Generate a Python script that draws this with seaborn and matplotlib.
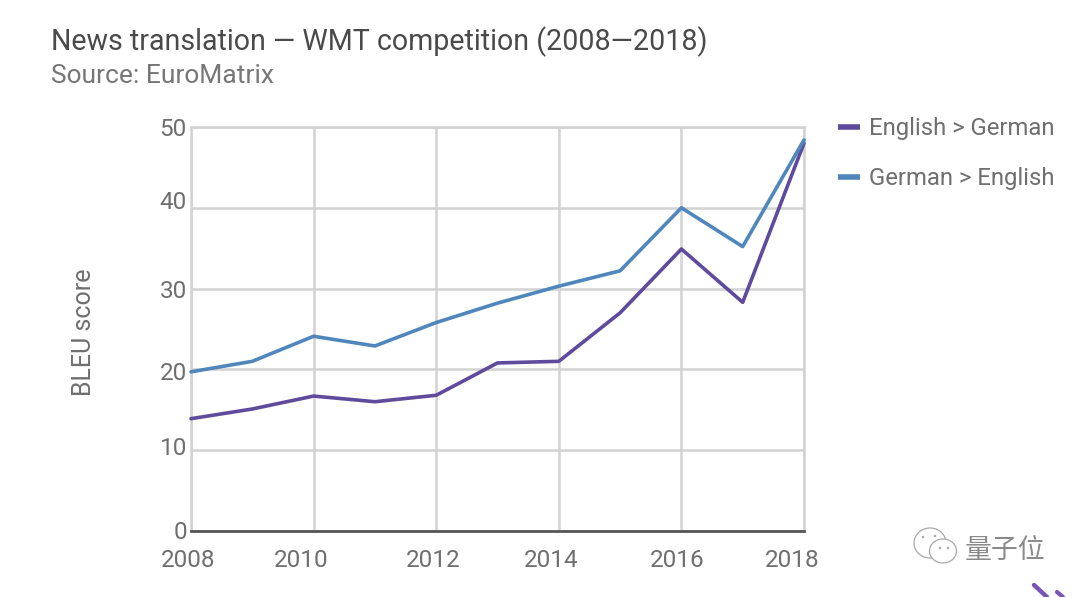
import matplotlib
matplotlib.use("Agg")
import matplotlib.pyplot as plt
import matplotlib.patches as mp
from matplotlib.lines import Line2D
from matplotlib.transforms import ScaledTranslation
import pandas as pd
import seaborn as sns

years = [2008, 2009, 2010, 2011, 2012, 2013, 2014, 2015, 2016, 2017, 2018]
en_de = [13.9, 15.1, 16.7, 16.0, 16.8, 20.8, 21.0, 27.0, 34.9, 28.3, 48.0]
de_en = [19.7, 21.0, 24.1, 22.9, 25.8, 28.2, 30.3, 32.2, 40.0, 35.2, 48.4]
series_names = ["English > German", "German > English"]
palette = ["#5f4b9b", "#4f87bd"]
y_ticks = [0, 10, 20, 30, 40, 50]
x_ticks = [2008, 2010, 2012, 2014, 2016, 2018]
# small hand offsets of the tick labels seen in the reference (pixels)
x_label_shift = [-3, -12, -3, -8, -4, -12]
y_label_shift = [1, 4, -2, 0, 8, 0]

sns.set_theme(style="white")
plt.rcParams["font.family"] = ["Roboto", "Noto Sans CJK SC", "DejaVu Sans"]

W, H = 1080, 597
fig = plt.figure(figsize=(W / 100, H / 100), dpi=100, facecolor="white")
ax = fig.add_axes([191 / W, 1 - 531 / H, (804 - 191) / W, (531 - 127) / H])

df = pd.DataFrame({"year": years * 2,
                   "score": en_de + de_en,
                   "series": [series_names[0]] * 11 + [series_names[1]] * 11})
sns.lineplot(data=df, x="year", y="score", hue="series", palette=palette,
             linewidth=2.6, ax=ax, legend=False, zorder=3, clip_on=False)

ax.set_xlim(2008, 2018)
ax.set_ylim(0, 50)
ax.set_xticks(x_ticks)
ax.set_yticks(y_ticks)
ax.grid(True, color="#d2d2d2", linewidth=1.8)
ax.set_axisbelow(True)
for s in ["top", "right", "left"]:
    ax.spines[s].set_color("#d2d2d2")
    ax.spines[s].set_linewidth(1.8)
ax.spines["bottom"].set_color("#555555")
ax.spines["bottom"].set_linewidth(2.0)
ax.spines["bottom"].set_zorder(2.5)
ax.set_xlabel("")
ax.set_ylabel("")
ax.tick_params(axis="both", length=0, labelsize=17.5, labelcolor="#6f6f6f")
ax.tick_params(axis="x", pad=13)
ax.tick_params(axis="y", pad=3)
fig.canvas.draw()
for lab, dx in zip(ax.get_xticklabels(), x_label_shift):
    lab.set_transform(lab.get_transform() + ScaledTranslation(dx / 100, 0, fig.dpi_scale_trans))
for lab, dy in zip(ax.get_yticklabels(), y_label_shift):
    lab.set_transform(lab.get_transform() + ScaledTranslation(0, dy / 100, fig.dpi_scale_trans))

fig.text(84 / W, 1 - 332 / H, "BLEU score", rotation=90, fontsize=18,
         color="#6f6f6f", ha="center", va="center")
fig.text(51 / W, 1 - 42 / H, "News translation — WMT competition (2008—2018)",
         fontsize=20.6, color="#4a4a4a", ha="left", va="center")
fig.text(51 / W, 1 - 76 / H, "Source: EuroMatrix", fontsize=19,
         color="#777777", ha="left", va="center")

# legend
for name, col, ypx in zip(series_names, palette, [127, 177]):
    fig.add_artist(Line2D([838 / W, 860 / W], [1 - ypx / H] * 2, color=col, lw=4,
                          solid_capstyle="butt"))
    fig.text(869 / W, 1 - (ypx + 2) / H, name, fontsize=17.2, color="#6f6f6f",
             ha="left", va="center")

# watermark
fig.text(965 / W, 1 - 550 / H, "量子位", fontsize=19.4, color="#8a8a8a",
         ha="left", va="center")
for cx, cy, rx, ry in [(930, 543, 16, 15), (943, 551, 13.5, 12)]:
    fig.add_artist(mp.Ellipse((cx / W, 1 - cy / H), rx * 2 / W, ry * 2 / H,
                              transform=fig.transFigure, fc="white", ec="#a8a8a8", lw=0.9))
for px, py in [(923, 537), (935, 536), (940, 548), (948, 548)]:
    fig.add_artist(mp.Ellipse((px / W, 1 - py / H), 2.5 / W, 2.5 / H,
                              transform=fig.transFigure, fc="#a8a8a8", ec="none"))
fig.add_artist(Line2D([1034 / W, 1047 / W], [1 - 585 / H, 0], color="#7a55b8", lw=3.2))
fig.add_artist(Line2D([1057 / W, 1063 / W], [1 - 592 / H, 0], color="#7a55b8", lw=3))

fig.savefig("out.png", dpi=100, facecolor="white")
